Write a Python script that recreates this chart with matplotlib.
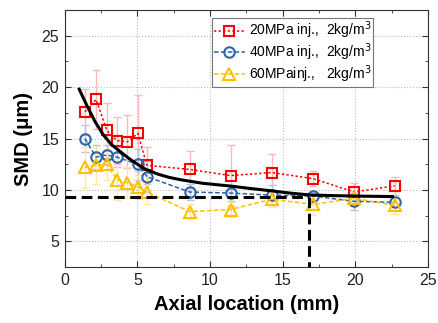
import numpy as np
import matplotlib
matplotlib.use("Agg")
import matplotlib.pyplot as plt
from matplotlib.ticker import MultipleLocator

plt.rcParams['font.family'] = ['Liberation Sans', 'DejaVu Sans']

# ── data ──
x_red = [1.38, 2.15, 2.89, 3.58, 4.31, 5.03, 5.65, 8.6, 11.42, 14.24, 17.11, 19.91, 22.72]
y_red = [17.6, 18.8, 15.8, 14.8, 14.7, 15.5, 12.4, 12.0, 11.4, 11.7, 11.1, 9.8, 10.4]
e_red = [2.2, 2.9, 2.7, 2.3, 2.6, 3.7, 1.8, 1.8, 3.0, 1.8, 0.7, 0.9, 0.9]

x_blue = [1.38, 2.15, 2.89, 3.58, 5.03, 5.65, 8.6, 11.42, 14.24, 17.11, 19.91, 22.72]
y_blue = [15.0, 13.2, 13.4, 13.2, 12.5, 11.3, 9.8, 9.7, 9.5, 9.4, 8.9, 8.8]
e_blue = [1.3, 1.2, 1.0, 1.0, 1.5, 1.5, 0.8, 0.8, 1.0, 0.5, 0.8, 0.5]

x_yel = [1.38, 2.15, 2.89, 3.58, 4.31, 5.03, 5.65, 8.6, 11.42, 14.24, 17.11, 19.91, 22.72]
y_yel = [12.2, 12.4, 12.5, 11.0, 10.7, 10.3, 9.8, 7.9, 8.1, 9.1, 8.6, 9.2, 8.5]
e_yel = [2.0, 1.8, 1.5, 2.0, 1.5, 1.2, 1.2, 0.7, 0.7, 0.8, 1.0, 0.8, 0.8]

# fitted trend curve
fit_x = [0.99, 1.5, 2.08, 2.65, 3.23, 3.81, 4.38, 4.96, 5.54, 6.39, 7.2, 8.0, 9.5, 11.42, 12.8, 14.2, 15.5, 16.84, 18.5, 20.5, 22.56]
fit_y = [19.8, 18.27, 16.65, 15.36, 14.39, 13.74, 13.10, 12.54, 12.03, 11.55, 11.22, 10.99, 10.65, 10.38, 10.14, 9.92, 9.7, 9.52, 9.45, 9.4, 9.36]

x_cut = 16.84
y_cut = 9.35

labels = ['20MPa inj.,  2kg/m$^3$', '40MPa inj.,  2kg/m$^3$', '60MPainj.,   2kg/m$^3$']

fig = plt.figure(figsize=(4.38, 3.23), dpi=100)
ax = fig.add_axes([0.148, 0.173, 0.829, 0.796])

ax.errorbar(x_red, y_red, yerr=e_red, fmt='none', ecolor='#FFB8B8', elinewidth=1, capsize=3, zorder=1)
ax.errorbar(x_blue, y_blue, yerr=e_blue, fmt='none', ecolor='#B4C8E4', elinewidth=1, capsize=3, zorder=1)
ax.errorbar(x_yel, y_yel, yerr=e_yel, fmt='none', ecolor='#FFE8A0', elinewidth=1, capsize=3, zorder=1)

ax.plot(x_red, y_red, color='#FF0000', linestyle=(0, (1.5, 1.5)), lw=1.1,
        marker='s', ms=7, mfc='none', mew=1.5, label=labels[0], zorder=3)
ax.plot(x_blue, y_blue, color='#2E64A8', linestyle=(0, (3, 1.5)), lw=1.1,
        marker='o', ms=7.5, mfc='none', mew=1.5, label=labels[1], zorder=3)
ax.plot(x_yel, y_yel, color='#FFC000', linestyle=(0, (3, 1.5)), lw=1.1,
        marker='^', ms=8, mfc='none', mew=1.5, label=labels[2], zorder=3)

ax.plot(fit_x, fit_y, color='black', lw=2.2, zorder=4)
ax.plot([0, x_cut], [y_cut, y_cut], color='black', lw=2.2, linestyle=(0, (3.5, 1.8)), zorder=4)
ax.plot([x_cut, x_cut], [y_cut, 2.5], color='black', lw=2.2, linestyle=(0, (3.5, 1.8)), zorder=4)

ax.set_xlim(0, 25)
ax.set_ylim(2.5, 27.5)
ax.xaxis.set_major_locator(MultipleLocator(5))
ax.xaxis.set_minor_locator(MultipleLocator(2.5))
ax.yaxis.set_major_locator(MultipleLocator(5))
ax.yaxis.set_minor_locator(MultipleLocator(2.5))
ax.tick_params(which='both', direction='in', top=True, right=True, labelsize=11.5,
               color='#333333', labelcolor='#222222')
ax.tick_params(which='major', length=4, pad=4)
ax.tick_params(which='minor', length=2)
ax.grid(True, which='major', color='#BBBBBB', linestyle=':', lw=0.8)
for s in ax.spines.values():
    s.set_color('#333333')

ax.set_xlabel('Axial location (mm)', fontsize=14.5, fontweight='bold', labelpad=5)
ax.set_ylabel('SMD (\u03bcm)', fontsize=14.5, fontweight='bold', labelpad=6)

leg = ax.legend(loc='upper left', bbox_to_anchor=(0.405, 0.97), fontsize=10,
                frameon=True, fancybox=False, handlelength=2.2, handletextpad=0.3,
                borderpad=0.15, labelspacing=0.0, borderaxespad=0)
leg.get_frame().set_edgecolor('#555555')
leg.get_frame().set_linewidth(0.8)

fig.savefig('out.png', dpi=100)
